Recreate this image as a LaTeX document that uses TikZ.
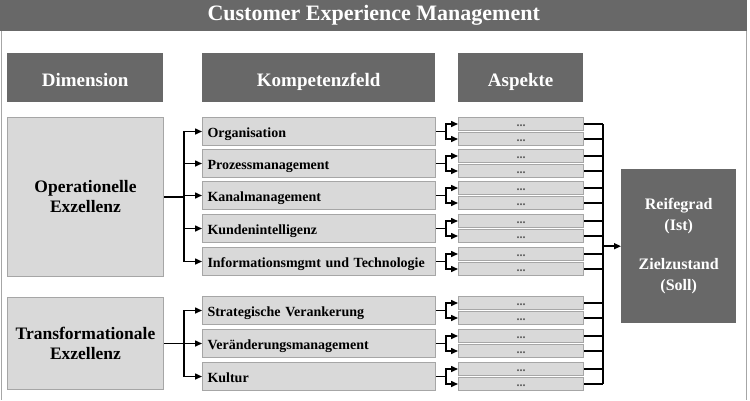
\documentclass[tikz,border=0pt]{standalone}
\usepackage{fontspec}
\setmainfont{Liberation Serif}
\usetikzlibrary{arrows.meta}
\definecolor{dunkel}{HTML}{686868}
\definecolor{hell}{HTML}{D9D9D9}
\definecolor{rand}{HTML}{A6A6A6}
\tikzset{
  kopf/.style={fill=dunkel, text=white, font=\fontsize{19}{22}\selectfont\bfseries,
    anchor=north west, inner sep=0pt, minimum height=49pt, text height=17pt, text depth=0pt},
  dimbox/.style={fill=hell, draw=rand, line width=1pt, font=\fontsize{17.5}{20}\selectfont\bfseries,
    align=center, anchor=north west, inner sep=0pt, minimum width=156pt},
  feld/.style={fill=hell, draw=rand, line width=1pt, font=\fontsize{14}{16}\selectfont\bfseries,
    anchor=north west, text width=223pt, inner xsep=5pt, inner ysep=0pt,
    minimum height=28pt, align=left, text height=11pt, text depth=0pt},
  aspekt/.style={fill=hell, draw=rand, line width=1pt, font=\fontsize{12}{12}\selectfont\bfseries,
    text=black!65, anchor=north west, inner sep=0pt, minimum width=125pt, minimum height=13pt,
    text height=5pt, text depth=0pt},
  pfeil/.style={line width=1.5pt, -{Triangle[length=7pt,width=6pt]}},
  linie/.style={line width=1.5pt}
}
\begin{document}
\begin{tikzpicture}[x=1pt,y=-1pt]
  \useasboundingbox (0,0) rectangle (750,400);
  % titel und rahmen
  \node[fill=dunkel, text=white, anchor=north west, minimum width=747pt, minimum height=31pt,
    inner sep=0pt, font=\fontsize{22}{24}\selectfont\bfseries] (titel) at (0,0)
    {Customer Experience Management};
  \draw[rand, line width=1.2pt] (1.5,31) -- (1.5,400);
  \draw[rand, line width=1.2pt] (746.5,31) -- (746.5,400);

  % kopfzeile
  \node[kopf, minimum width=156pt] (dimension) at (7,53) {Dimension};
  \node[kopf, minimum width=233pt] (kompetenz) at (202,53) {Kompetenzfeld};
  \node[kopf, minimum width=125pt] (aspekte) at (458,53) {Aspekte};

  % dimensionen
  \node[dimbox, minimum height=159pt] (op) at (7,117) {Operationelle\\Exzellenz};
  \node[dimbox, minimum height=92pt] (trans) at (7,297) {Transformationale\\Exzellenz};

  % kompetenzfelder
  \node[feld] (k1) at (202,117) {Organisation};
  \node[feld] (k2) at (202,149) {Prozessmanagement};
  \node[feld] (k3) at (202,181) {Kanalmanagement};
  \node[feld] (k4) at (202,214) {Kundenintelligenz};
  \node[feld] (k5) at (202,247) {Informationsmgmt und Technologie};
  \node[feld] (k6) at (202,296) {Strategische Verankerung};
  \node[feld] (k7) at (202,329) {Veränderungsmanagement};
  \node[feld] (k8) at (202,362) {Kultur};

  % reifegrad
  \node[fill=dunkel, text=white, anchor=north west, minimum width=115pt, minimum height=154pt,
    inner sep=0pt, align=center, font=\fontsize{16}{20.5}\selectfont\bfseries] (reife) at (621,169)
    {Reifegrad\\(Ist)\\[19pt]Zielzustand\\(Soll)};

  \coordinate (bus) at (603,0);

  % aspekte je kompetenzfeld
  \foreach \i/\y in {1/117,2/149,3/181,4/214,5/247,6/296,7/329,8/362} {
    \node[aspekt] (ao\i) at (458,\y) {...};
    \node[aspekt] (au\i) at (458,\y+15) {...};
    \draw[pfeil] (k\i.east) -- ++(10,0) |- (ao\i.west);
    \draw[pfeil] (k\i.east) -- ++(10,0) |- (au\i.west);
    \draw[linie] (ao\i.east) -- (ao\i.east -| bus);
    \draw[linie] (au\i.east) -- (au\i.east -| bus);
  }

  % verbindungen dimension -> kompetenzfeld
  \draw[pfeil] (op.east) -- ++(20,0) |- (k1.west);
  \draw[pfeil] (op.east) -- ++(20,0) |- (k2.west);
  \draw[pfeil] (op.east) -- ++(20,0) |- (k3.west);
  \draw[pfeil] (op.east) -- ++(20,0) |- (k4.west);
  \draw[pfeil] (op.east) -- ++(20,0) |- (k5.west);
  \draw[pfeil] (trans.east) -- ++(20,0) |- (k6.west);
  \draw[pfeil] (trans.east) -- ++(20,0) |- (k7.west);
  \draw[pfeil] (trans.east) -- ++(20,0) |- (k8.west);

  % sammelschiene
  \draw[linie] (ao1.east -| bus) -- (au8.east -| bus);
  \draw[pfeil] (reife.west -| bus) -- (reife.west);
\end{tikzpicture}
\end{document}
